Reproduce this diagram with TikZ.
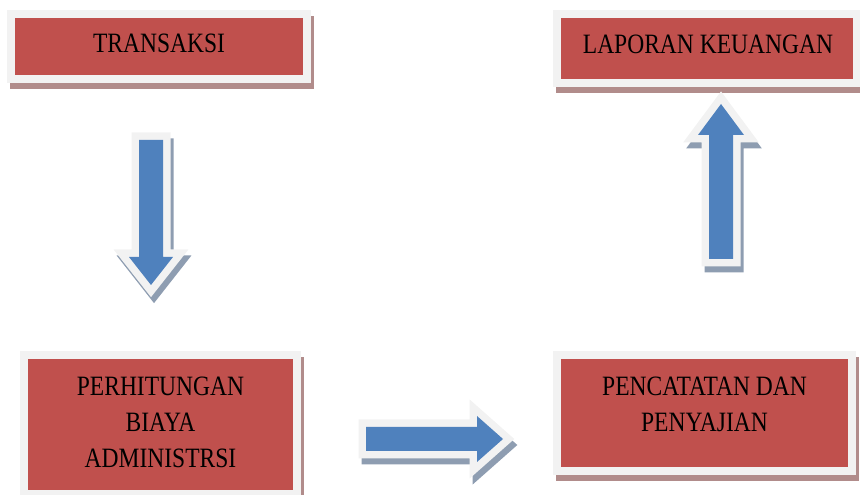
\documentclass[tikz,border=0pt]{standalone}
\usepackage{fontspec}
\setmainfont{Liberation Serif}[FakeStretch=0.84]
\definecolor{boxred}{HTML}{C0504D}
\definecolor{arrowblue}{HTML}{4F81BD}
\definecolor{framegray}{HTML}{F2F2F2}
\definecolor{redshadow}{HTML}{B18C8B}
\definecolor{blueshadow}{HTML}{8E9DB1}
\tikzset{
  redbox/.style={rectangle, inner sep=0pt, fill=boxred,
    preaction={draw=redshadow, fill=redshadow, line width=16pt,
      transform canvas={shift={(3pt,-6pt)}}},
    preaction={draw=framegray, line width=16pt}},
  boxlabel/.style={inner sep=0pt, align=center, text=black,
    font=\fontsize{28}{36}\selectfont},
  blockarrow/.style={fill=arrowblue, line join=miter,
    preaction={draw=blueshadow, fill=blueshadow, line width=15pt,
      transform canvas={shift={(3pt,-6pt)}}},
    preaction={draw=framegray, line width=15pt}}
}
\begin{document}
\begin{tikzpicture}[x=1pt,y=1pt]
\useasboundingbox (0,0) rectangle (860,495);
% boxes
\node[redbox, minimum width=288pt, minimum height=57pt] (b1) at (159,448.5) {};
\node[redbox, minimum width=292pt, minimum height=61pt] (b2) at (707,446.5) {};
\node[redbox, minimum width=265pt, minimum height=131pt] (b3) at (160.5,70.5) {};
\node[redbox, minimum width=287pt, minimum height=108pt] (b4) at (704.5,82) {};
% labels
\node[boxlabel] (t1) at (159,452) {TRANSAKSI};
\node[boxlabel] (t2) at (708,450.5) {LAPORAN KEUANGAN};
\node[boxlabel] (t3) at (160.5,73) {PERHITUNGAN\\BIAYA\\ADMINISTRSI};
\node[boxlabel] (t4) at (704.5,91) {PENCATATAN DAN\\PENYAJIAN};
% block arrows
\path[blockarrow] (139,355) -- (163,355) -- (163,238) -- (173,238) -- (151,210)
  -- (129,238) -- (139,238) -- cycle;
\path[blockarrow] (366,44) -- (477,44) -- (477,33) -- (503,56) -- (477,79)
  -- (477,68) -- (366,68) -- cycle;
\path[blockarrow] (709,236) -- (733,236) -- (733,360) -- (744,360) -- (721,391)
  -- (698,360) -- (709,360) -- cycle;
\end{tikzpicture}
\end{document}
